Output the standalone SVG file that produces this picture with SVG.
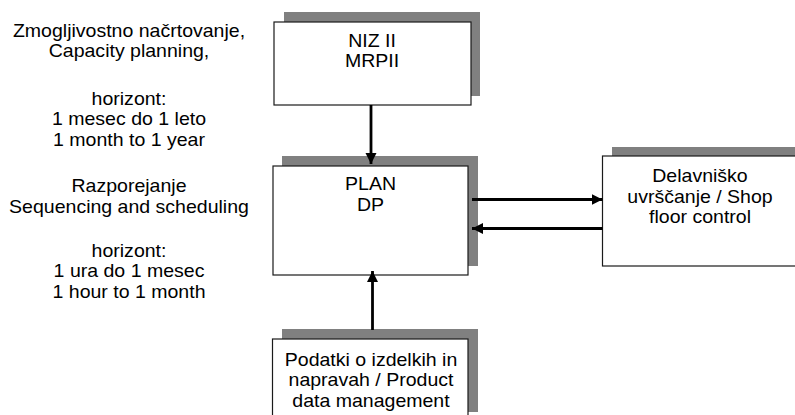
<svg xmlns="http://www.w3.org/2000/svg" width="795" height="415" viewBox="0 0 795 415">
<style>
  .shadow { fill: #808080; }
  .box { fill: #ffffff; stroke: #1a1a1a; stroke-width: 1.2; }
  .t { font-family: "Liberation Sans", Arial, sans-serif; font-size: 18px; fill: #000; text-anchor: middle; }
  .conn { stroke: #000; stroke-width: 2.8; fill: none; marker-end: url(#arrow); }
</style>
<defs>
  <marker id="arrow" markerUnits="userSpaceOnUse" markerWidth="12" markerHeight="12" viewBox="0 0 12 12" refX="11" refY="6" orient="auto">
    <path d="M0,0.5 L11,6 L0,11.5 Z" fill="#000"/>
  </marker>
</defs>
<rect width="795" height="415" fill="#fff"/>

<g id="left-text" transform="translate(129,0) scale(1.085,1)">
  <text class="t" x="0" y="37">Zmogljivostno načrtovanje,</text>
  <text class="t" x="0" y="57.5">Capacity planning,</text>
  <text class="t" x="0" y="105">horizont:</text>
  <text class="t" x="0" y="125.5">1 mesec do 1 leto</text>
  <text class="t" x="0" y="146.5">1 month to 1 year</text>
  <text class="t" x="0" y="192">Razporejanje</text>
  <text class="t" x="0" y="213">Sequencing and scheduling</text>
  <text class="t" x="0" y="257">horizont:</text>
  <text class="t" x="0" y="277.3">1 ura do 1 mesec</text>
  <text class="t" x="0" y="298">1 hour to 1 month</text>
</g>

<g id="node-niz">
  <rect class="shadow" x="284" y="12" width="196" height="84"/>
  <rect class="box" x="274" y="22" width="197" height="83"/>
  <g transform="translate(372,0) scale(1.085,1)">
    <text class="t" x="0" y="47">NIZ II</text>
    <text class="t" x="0" y="67.3">MRPII</text>
  </g>
</g>

<g id="node-plan">
  <rect class="shadow" x="282" y="156" width="196" height="110"/>
  <rect class="box" x="273" y="166" width="195" height="109"/>
  <g transform="translate(370.5,0) scale(1.085,1)">
    <text class="t" x="0" y="190">PLAN</text>
    <text class="t" x="0" y="211">DP</text>
  </g>
</g>

<g id="node-shop">
  <rect class="shadow" x="612" y="147" width="200" height="109"/>
  <rect class="box" x="602.5" y="156" width="210" height="110"/>
  <g transform="translate(700,0) scale(1.085,1)">
    <text class="t" x="0" y="182">Delavniško</text>
    <text class="t" x="0" y="202.8">uvrščanje / Shop</text>
    <text class="t" x="0" y="223.4">floor control</text>
  </g>
</g>

<g id="node-pdm">
  <rect class="shadow" x="282" y="329" width="196" height="83"/>
  <rect class="box" x="272.5" y="339" width="195.5" height="90"/>
  <g transform="translate(371,0) scale(1.085,1)">
    <text class="t" x="0" y="366">Podatki o izdelkih in</text>
    <text class="t" x="0" y="386.3">napravah / Product</text>
    <text class="t" x="0" y="406.6">data management</text>
  </g>
</g>

<g id="connectors">
  <line class="conn" x1="371" y1="105" x2="371" y2="164"/>
  <line class="conn" x1="372.5" y1="330" x2="372.5" y2="271"/>
  <line class="conn" x1="472" y1="199.5" x2="602.5" y2="199.5"/>
  <line class="conn" x1="602.5" y1="228.5" x2="472" y2="228.5"/>
</g>
</svg>
